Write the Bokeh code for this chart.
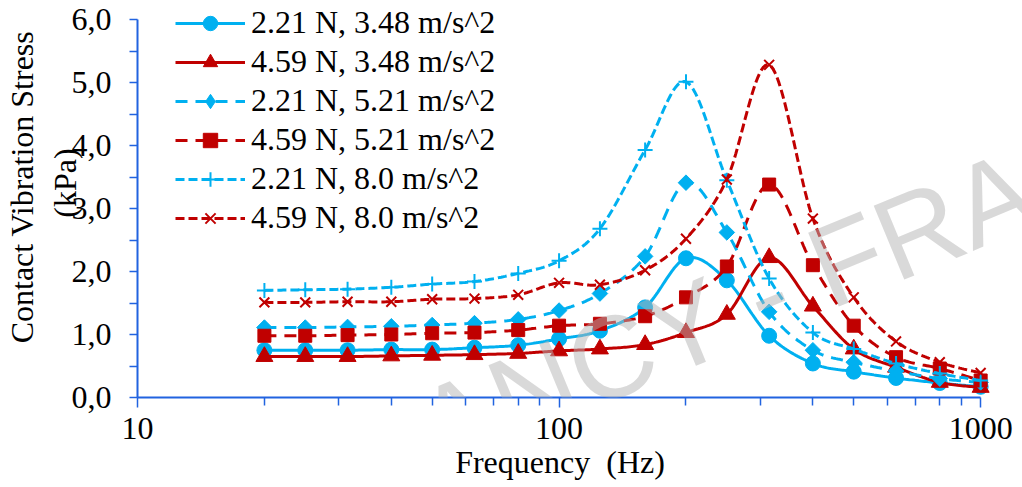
import numpy as np
from bokeh.plotting import figure
from bokeh.models import FixedTicker, Label, Legend, LegendItem, LinearAxis
from bokeh.embed import file_html
from bokeh.resources import INLINE

# One-third-octave band centre frequencies (Hz)
freq_hz = [20, 25, 31.5, 40, 50, 63, 80, 100, 125, 160, 200, 250, 315, 400, 500, 630, 800, 1000]

# Contact vibration stress (kPa) for each load / acceleration pair
stress_221n_348 = [0.75, 0.75, 0.75, 0.76, 0.76, 0.79, 0.83, 0.93, 1.06, 1.43, 2.21, 1.86, 0.98, 0.54, 0.41, 0.31, 0.23, 0.17]
stress_459n_348 = [0.65, 0.65, 0.65, 0.66, 0.67, 0.68, 0.70, 0.74, 0.77, 0.84, 1.03, 1.32, 2.22, 1.45, 0.77, 0.48, 0.24, 0.16]
stress_221n_521 = [1.11, 1.11, 1.12, 1.13, 1.15, 1.18, 1.24, 1.38, 1.65, 2.24, 3.41, 2.62, 1.36, 0.75, 0.56, 0.42, 0.30, 0.24]
stress_459n_521 = [0.98, 0.98, 0.99, 1.00, 1.02, 1.03, 1.07, 1.14, 1.17, 1.29, 1.59, 2.08, 3.38, 2.10, 1.14, 0.64, 0.46, 0.27]
stress_221n_800 = [1.70, 1.71, 1.72, 1.75, 1.80, 1.84, 1.97, 2.17, 2.68, 3.93, 5.01, 3.45, 1.89, 1.03, 0.77, 0.54, 0.38, 0.27]
stress_459n_800 = [1.51, 1.51, 1.52, 1.52, 1.56, 1.57, 1.63, 1.82, 1.79, 2.02, 2.52, 3.46, 5.28, 2.84, 1.59, 0.89, 0.56, 0.39]

series_labels = [
    "2.21 N, 3.48 m/s^2",
    "4.59 N, 3.48 m/s^2",
    "2.21 N, 5.21 m/s^2",
    "4.59 N, 5.21 m/s^2",
    "2.21 N, 8.0 m/s^2",
    "4.59 N, 8.0 m/s^2",
]

x_major_ticks = [10, 100, 1000]
x_tick_labels = ["10", "100", "1000"]
x_minor_ticks = [20, 30, 40, 50, 60, 70, 80, 90, 200, 300, 400, 500, 600, 700, 800, 900]
y_major_ticks = [0, 1, 2, 3, 4, 5, 6]
y_tick_labels = ["0,0", "1,0", "2,0", "3,0", "4,0", "5,0", "6,0"]
y_minor_ticks = [0.5, 1.5, 2.5, 3.5, 4.5, 5.5]

NBSP = "\u00a0"
x_title = "Frequency" + NBSP + " (Hz)"
y_title = "Contact Vibration Stress"
y_unit = "(kPa)"
watermark = "2 - NANCY - FRAM"

CYAN = "#00B0F0"
RED = "#C00000"
AXIS_BLUE = "#2163E0"
SERIF = "Liberation Serif"

W, H = 1022, 487
# Where the axes sit on the canvas (pixels): x 10..1000 spans FL..FR, y 0..6 spans FB..FT
FL, FR, FT, FB = 134, 980, 19, 397


def at_px(px, py):
    """Canvas pixel -> data coordinates."""
    x = 10 ** (1 + 2 * (px - FL) / (FR - FL))
    y = 6 * (FB - py) / (FB - FT)
    return x, y


# The plotting area runs on to the top and right edges of the canvas so that
# the legend and the watermark are not cut; the axes stop at 1000 Hz and 6 kPa.
x_end, y_end = at_px(W, 0)


def smooth(xs, ys, n=24):
    """Bezier smoothing through the points (in log-x space), like spreadsheet smoothed lines."""
    u = np.log10(np.asarray(xs, dtype=float))
    v = np.asarray(ys, dtype=float)
    pu = np.concatenate([[u[0]], u, [u[-1]]])
    pv = np.concatenate([[v[0]], v, [v[-1]]])
    t = np.linspace(0, 1, n)
    out_u, out_v = [], []
    for i in range(len(u) - 1):
        p0u, p1u, p2u, p3u = pu[i:i + 4]
        p0v, p1v, p2v, p3v = pv[i:i + 4]
        c1u, c1v = p1u + (p2u - p0u) / 6, p1v + (p2v - p0v) / 6
        c2u, c2v = p2u - (p3u - p1u) / 6, p2v - (p3v - p1v) / 6
        a, b, c, d = (1 - t) ** 3, 3 * (1 - t) ** 2 * t, 3 * (1 - t) * t ** 2, t ** 3
        bu = a * p1u + b * c1u + c * c2u + d * p2u
        bv = a * p1v + b * c1v + c * c2v + d * p2v
        if i > 0:
            bu, bv = bu[1:], bv[1:]
        out_u.extend(bu)
        out_v.extend(bv)
    return 10 ** np.array(out_u), np.array(out_v)


p = figure(
    width=W, height=H,
    x_axis_type="log", x_range=(10, x_end), y_range=(0, y_end),
    output_backend="svg", toolbar_location=None,
    min_border_left=FL, min_border_right=0,
    min_border_top=0, min_border_bottom=H - FB,
)
p.outline_line_color = None
p.grid.visible = False
p.background_fill_color = "white"
p.border_fill_color = "white"

# Axes
p.xaxis.ticker = FixedTicker(ticks=x_major_ticks, minor_ticks=x_minor_ticks)
p.xaxis.major_label_overrides = dict(zip(x_major_ticks, x_tick_labels))
p.xaxis.bounds = (10, 1000)
p.yaxis.ticker = FixedTicker(ticks=y_major_ticks, minor_ticks=y_minor_ticks)
p.yaxis.major_label_overrides = dict(zip(y_major_ticks, y_tick_labels))
p.yaxis.bounds = (0, 6)
for ax in (p.xaxis[0], p.yaxis[0]):
    ax.axis_line_color = AXIS_BLUE
    ax.axis_line_width = 2
    ax.major_tick_line_color = AXIS_BLUE
    ax.minor_tick_line_color = AXIS_BLUE
    ax.major_tick_line_width = 1.5
    ax.minor_tick_line_width = 1.5
    ax.major_tick_in = 0
    ax.minor_tick_in = 0
    ax.major_label_text_font = SERIF
    ax.major_label_text_font_size = "32px"
    ax.major_label_text_color = "black"
    ax.axis_label_text_font = SERIF
    ax.axis_label_text_font_size = "32px"
    ax.axis_label_text_font_style = "normal"
    ax.axis_label_text_color = "black"
p.xaxis.major_tick_out = 10
p.xaxis.minor_tick_out = 8
p.xaxis.major_label_standoff = 10
# trailing no-break spaces keep the title centred under the 10..1000 span
p.xaxis.axis_label = x_title + NBSP * 5
p.xaxis.axis_label_standoff = 2

p.yaxis.major_tick_out = 8
p.yaxis.minor_tick_out = 8
p.yaxis.major_label_standoff = 18
# the unit line sits over the tick labels
p.yaxis.axis_label = NBSP * 4 + y_unit
p.yaxis.axis_label_standoff = -14

# outer, tick-less axis carrying the main title line
title_axis = LinearAxis(
    ticker=FixedTicker(ticks=[]), axis_label=NBSP * 3 + y_title,
    axis_label_standoff=4, axis_line_alpha=0,
    major_tick_out=0, minor_tick_out=0, major_tick_in=0, minor_tick_in=0,
    axis_label_text_font=SERIF, axis_label_text_font_size="32px",
    axis_label_text_font_style="normal", axis_label_text_color="black",
)
p.add_layout(title_axis, "left")

styles = [
    (stress_221n_348, CYAN, "solid", "circle", 15),
    (stress_459n_348, RED, "solid", "triangle", 17),
    (stress_221n_521, CYAN, "12 8", "diamond", 11),
    (stress_459n_521, RED, "12 8", "square", 13),
    (stress_221n_800, CYAN, "9 4", "cross", 15),
    (stress_459n_800, RED, "9 4", "x", 14),
]

items = []
for label, (vals, color, dash, marker, size) in zip(series_labels, styles):
    sx, sy = smooth(freq_hz, vals)
    lr = p.line(sx, sy, line_color=color, line_width=3, line_dash=dash)
    if marker in ("cross", "x"):
        mr = p.scatter(freq_hz, vals, marker=marker, size=size, line_color=color, line_width=2)
    elif marker == "diamond":
        # square turned 45 degrees on the plot; a small diamond under it
        # supplies the legend swatch
        p.scatter(freq_hz, vals, marker="square", size=size, angle=np.pi / 4,
                  fill_color=color, line_color=color, line_width=1)
        mr = p.scatter(freq_hz, vals, marker="diamond", size=8,
                       fill_color=color, line_color=color, line_width=1)
    else:
        mr = p.scatter(freq_hz, vals, marker=marker, size=size,
                       fill_color=color, line_color=color, line_width=1)
    items.append(LegendItem(label=label, renderers=[lr, mr]))

legend = Legend(
    items=items, location=(38, 161), orientation="vertical",
    padding=0, margin=0, spacing=2,
    glyph_width=70, glyph_height=36, label_standoff=6,
    label_text_font=SERIF, label_text_font_size="32px", label_text_color="black",
    border_line_alpha=0, background_fill_alpha=0,
)
p.add_layout(legend)

# Diagonal watermark
wx, wy = at_px(188, 531)
p.add_layout(Label(x=wx, y=wy, text=watermark, angle=np.radians(22.5), text_align="left",
                   text_baseline="alphabetic", text_font="Liberation Sans",
                   text_font_size="116px", text_color="#b4b4b4", text_alpha=0.5,
                   level="overlay"))

open("out.html", "w").write(file_html(p, INLINE))
